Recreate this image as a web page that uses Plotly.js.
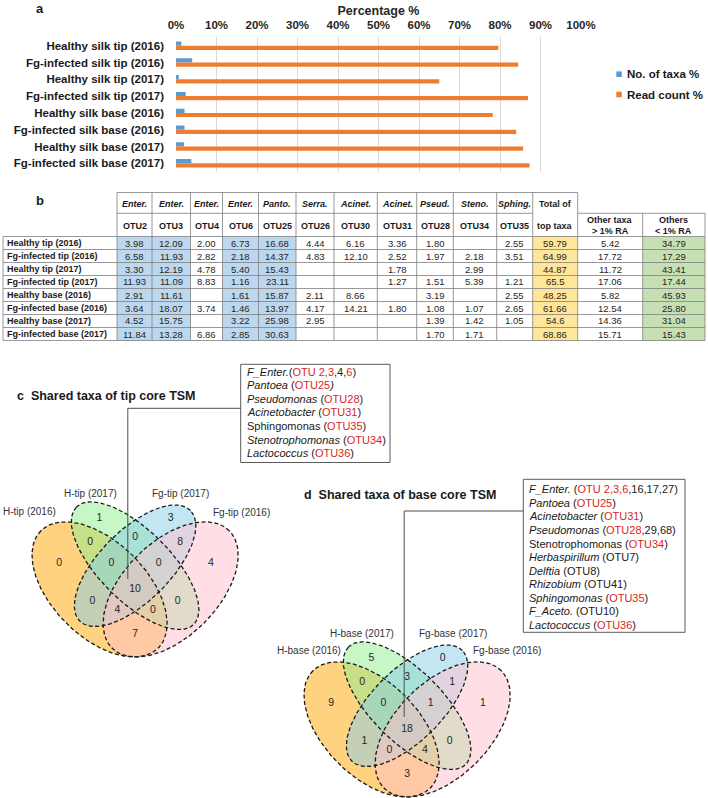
<!DOCTYPE html>
<html><head><meta charset="utf-8">
<script src="https://cdn.plot.ly/plotly-3.0.1.min.js"></script>
<style>html,body{margin:0;padding:0;background:#fff}#chart{width:708px;height:798px}</style>
</head><body><div id="chart"></div>
<script>
// ---------------- Panel a data ----------------
const sampleNames = ['Healthy silk tip (2016)','Fg-infected silk tip (2016)','Healthy silk tip (2017)','Fg-infected silk tip (2017)',
  'Healthy silk base (2016)','Fg-infected silk base (2016)','Healthy silk base (2017)','Fg-infected silk base (2017)'];
const taxaPct = [1.3, 4.0, 0.7, 2.4, 2.1, 2.1, 2.0, 3.8];
const readPct = [79.6, 84.5, 65.0, 86.9, 78.2, 84.0, 85.7, 87.3];
const seriesNames = ['No. of taxa %','Read count %'];
const pctTicks = [0,10,20,30,40,50,60,70,80,90,100];
const pctTickText = ['0%','10%','20%','30%','40%','50%','60%','70%','80%','90%','100%'];

// ---------------- Panel b data ----------------
const tableRowLabels = ['Healthy tip (2016)','Fg-infected tip (2016)','Healthy tip (2017)','Fg-infected tip (2017)',
  'Healthy base (2016)','Fg-infected base (2016)','Healthy base (2017)','Fg-infected base (2017)'];
const genusLabels = ['Enter.','Enter.','Enter.','Enter.','Panto.','Serra.','Acinet.','Acinet.','Pseud.','Steno.','Sphing.'];
const otuLabels = ['OTU2','OTU3','OTU4','OTU6','OTU25','OTU26','OTU30','OTU31','OTU28','OTU34','OTU35'];
// columns: 11 OTUs, total of top taxa, other taxa > 1% RA, others < 1% RA
const healthyTip2016  = ['3.98','12.09','2.00','6.73','16.68','4.44','6.16','3.36','1.80','','2.55','59.79','5.42','34.79'];
const fgTip2016       = ['6.58','11.93','2.82','2.18','14.37','4.83','12.10','2.52','1.97','2.18','3.51','64.99','17.72','17.29'];
const healthyTip2017  = ['3.30','12.19','4.78','5.40','15.43','','','1.78','','2.99','','44.87','11.72','43.41'];
const fgTip2017       = ['11.93','11.09','8.83','1.16','23.11','','','1.27','1.51','5.39','1.21','65.5','17.06','17.44'];
const healthyBase2016 = ['2.91','11.61','','1.61','15.87','2.11','8.66','','3.19','','2.55','48.25','5.82','45.93'];
const fgBase2016      = ['3.64','18.07','3.74','1.46','13.97','4.17','14.21','1.80','1.08','1.07','2.65','61.66','12.54','25.80'];
const healthyBase2017 = ['4.52','15.75','','3.22','25.98','2.95','','','1.39','1.42','1.05','54.6','14.36','31.04'];
const fgBase2017      = ['11.84','13.28','6.86','2.85','30.63','','','','1.70','1.71','','68.86','15.71','15.43'];
const tableRows = [healthyTip2016, fgTip2016, healthyTip2017, fgTip2017, healthyBase2016, fgBase2016, healthyBase2017, fgBase2017];

// ---------------- Panels c, d data ----------------
// region order: A, B, C, D, AB, BC, CD, ABC, BCD, AC, ABCD, BD, ACD, ABD, AD
const tipCounts  = [0, 1, 3, 4, 0, 0, 8, 0, 0, 0, 10, 0, 4, 0, 7];
const baseCounts = [9, 5, 0, 1, 0, 3, 1, 0, 1, 1, 18, 0, 0, 4, 3];
const tipSets  = ['H-tip (2016)','H-tip (2017)','Fg-tip (2017)','Fg-tip (2016)'];
const baseSets = ['H-base (2016)','H-base (2017)','Fg-base (2017)','Fg-base (2016)'];
const R = s => '<span style="color:#dc1e1e">' + s + '</span>';
const tipTaxa = [
  '<i>F_Enter.</i>(' + R('OTU 2,3') + ',4,' + R('6') + ')',
  '<i>Pantoea</i> (' + R('OTU25') + '<i>)</i>',
  '<i>Pseudomonas</i> (' + R('OTU28') + ')',
  '<i>Acinetobacter</i> (' + R('OTU31') + ')',
  'Sphingomonas (' + R('OTU35') + ')',
  '<i>Stenotrophomonas</i> (' + R('OTU34') + ')',
  '<i>Lactococcus</i> (' + R('OTU36') + ')'
];
const baseTaxa = [
  '<i>F_Enter.</i> (' + R('OTU 2,3,6') + ',16,17,27)',
  '<i>Pantoea</i> (' + R('OTU25') + ')',
  '<i>Acinetobacter</i> (' + R('OTU31') + ')',
  '<i>Pseudomonas</i> (' + R('OTU28') + ',29,68)',
  'Stenotrophomonas (' + R('OTU34') + ')',
  '<i>Herbaspirillum</i> (OTU7)',
  '<i>Delftia</i> (OTU8)',
  '<i>Rhizobium</i> (OTU41)',
  '<i>Sphingomonas</i> (' + R('OTU35') + ')',
  '<i>F_Aceto.</i> (OTU10)',
  '<i>Lactococcus</i> (' + R('OTU36') + ')'
];

// ---------------- layout helpers ----------------
const W = 708, H = 798;
const FONT = 'Liberation Sans, Arial, Helvetica, sans-serif';
const px = x => x / W;
const py = y => 1 - y / H;
const annotations = [];
const shapes = [];
function ann(x, y, text, size, extra) {
  annotations.push(Object.assign({
    xref: 'paper', yref: 'paper', x: px(x), y: py(y), text: text, showarrow: false,
    xanchor: 'center', yanchor: 'middle', font: {family: FONT, size: size, color: '#1a1a1a'}
  }, extra || {}));
}
function line(x0, y0, x1, y1, color, width) {
  shapes.push({type: 'line', xref: 'paper', yref: 'paper', x0: px(x0), y0: py(y0), x1: px(x1), y1: py(y1),
    line: {color: color, width: width}});
}
function rect(x0, y0, x1, y1, fill, lineColor, lw) {
  shapes.push({type: 'rect', xref: 'paper', yref: 'paper', x0: px(x0), y0: py(y0), x1: px(x1), y1: py(y1),
    fillcolor: fill || 'rgba(0,0,0,0)', line: {color: lineColor || 'rgba(0,0,0,0)', width: lw || 0}, layer: 'below'});
}

const traces = [];

// ---------------- Panel a ----------------
const barColors = ['#5b9bd5', '#ed7d31'];
[taxaPct, readPct].forEach((vals, k) => {
  traces.push({type: 'bar', orientation: 'h', x: vals, y: sampleNames, name: seriesNames[k],
    marker: {color: barColors[k]}, xaxis: 'x', yaxis: 'y', showlegend: false, hoverinfo: 'skip'});
});
ann(40, 8.5, '<b>a</b>', 13);
// custom legend
seriesNames.forEach((n, k) => {
  const yc = 74.2 + k * 20.3;
  shapes.push({type: 'rect', xref: 'paper', yref: 'paper', x0: px(616.3), x1: px(621.8), y0: py(yc + 2.8), y1: py(yc - 2.8),
    fillcolor: barColors[k], line: {width: 0}});
  ann(624.5, yc, '<b>' + n + '</b>', 11.5, {xanchor: 'left'});
});

// ---------------- Panel b (table) ----------------
const colEdges = [3, 117, 152, 190.5, 222.5, 258.5, 296, 334, 377.3, 416.7, 453.3, 496.7, 532.7, 577.7, 642.7, 705];
const headTop = 192.5, headMid = 213.3, bodyTop = 236.5, rowH = 13.0;
const colFill = ['#bdd7ee','#bdd7ee',null,'#bdd7ee','#bdd7ee',null,null,null,null,null,null,'#ffe699',null,'#c6e0b4'];
const gridC = '#7f7f7f', gridW = 0.8;
const nRows = tableRows.length;
const bodyBot = bodyTop + nRows * rowH;
ann(40, 201, '<b>b</b>', 13);
// fills
colFill.forEach((c, j) => {
  if (c) rect(colEdges[j + 1], bodyTop, colEdges[j + 2], bodyBot, c);
});
// horizontal lines
line(colEdges[1], headTop, colEdges[13], headTop, gridC, gridW);
line(colEdges[1], headMid, colEdges[12], headMid, gridC, gridW);
line(colEdges[13], headMid, colEdges[15], headMid, gridC, gridW);
for (let i = 0; i <= nRows; i++) line(colEdges[0], bodyTop + i * rowH, colEdges[15], bodyTop + i * rowH, gridC, gridW);
// vertical lines
line(colEdges[0], bodyTop, colEdges[0], bodyBot, gridC, gridW);
for (let j = 1; j <= 13; j++) line(colEdges[j], headTop, colEdges[j], bodyBot, gridC, gridW);
for (let j = 14; j <= 15; j++) line(colEdges[j], headMid, colEdges[j], bodyBot, gridC, gridW);
// header text
const mid = j => (colEdges[j] + colEdges[j + 1]) / 2;
genusLabels.forEach((g, j) => ann(mid(j + 1), 204.3, '<b><i>' + g + '</i></b>', 9));
otuLabels.forEach((o, j) => ann(mid(j + 1), 225.7, '<b>' + o + '</b>', 9));
ann(mid(12), 204.3, '<b>Total of</b>', 9);
ann(mid(12), 225.7, '<b>top taxa</b>', 9);
ann(mid(13), 220, '<b>Other taxa</b>', 9);
ann(mid(13), 231, '<b>&gt; 1% RA</b>', 9);
ann(mid(14), 220, '<b>Others</b>', 9);
ann(mid(14), 231, '<b>&lt; 1% RA</b>', 9);
// body text
tableRows.forEach((row, i) => {
  const yc = bodyTop + (i + 0.5) * rowH;
  ann(4.5, yc, '<b>' + tableRowLabels[i] + '</b>', 9, {xanchor: 'left'});
  row.forEach((v, j) => { if (v !== '') ann(mid(j + 1), yc, v, 9.5, {font: {family: FONT, size: 9.5, color: '#262626'}}); });
});

// ---------------- Panels c, d (Venn) ----------------
const ellipses = [
  {cx: 0.35, cy: 0.47, a: 0.35, b: 0.20, rot: 135, fill: 'rgba(255,165,0,0.5)'},
  {cx: 0.50, cy: 0.57, a: 0.35, b: 0.15, rot: 135, fill: 'rgba(144,238,144,0.5)'},
  {cx: 0.50, cy: 0.57, a: 0.33, b: 0.15, rot: 45,  fill: 'rgba(135,206,235,0.5)'},
  {cx: 0.65, cy: 0.47, a: 0.35, b: 0.20, rot: 45,  fill: 'rgba(255,192,203,0.5)'}
];
const regionU = [0.18, 0.35, 0.65, 0.82, 0.31, 0.50, 0.69, 0.40, 0.60, 0.32, 0.50, 0.68, 0.425, 0.575, 0.50];
const regionV = [0.58, 0.77, 0.77, 0.58, 0.67, 0.69, 0.67, 0.58, 0.58, 0.42, 0.47, 0.42, 0.38, 0.38, 0.28];
function ellipsePts(e) {
  const xs = [], ys = [], r = e.rot * Math.PI / 180;
  for (let i = 0; i <= 200; i++) {
    const t = 2 * Math.PI * i / 200;
    xs.push(e.cx + e.a * Math.cos(t) * Math.cos(r) - e.b * Math.sin(t) * Math.sin(r));
    ys.push(e.cy + e.a * Math.cos(t) * Math.sin(r) + e.b * Math.sin(t) * Math.cos(r));
  }
  return [xs, ys];
}
function venn(xa, ya, counts) {
  ellipses.forEach(e => {
    const [xs, ys] = ellipsePts(e);
    traces.push({type: 'scatter', mode: 'none', x: xs, y: ys, fill: 'toself', fillcolor: e.fill,
      xaxis: xa, yaxis: ya, showlegend: false, hoverinfo: 'skip'});
  });
  ellipses.forEach(e => {
    const [xs, ys] = ellipsePts(e);
    traces.push({type: 'scatter', mode: 'lines', x: xs, y: ys,
      line: {color: '#1a1a1a', width: 1.3, dash: '4px,2.5px'},
      xaxis: xa, yaxis: ya, showlegend: false, hoverinfo: 'skip'});
  });
  traces.push({type: 'scatter', mode: 'text', x: regionU, y: regionV, text: counts.map(String),
    textfont: {family: FONT, size: 10.5, color: '#262626'}, xaxis: xa, yaxis: ya, showlegend: false, hoverinfo: 'skip'});
}
venn('x2', 'y2', tipCounts);
venn('x3', 'y3', baseCounts);

// set labels
const tipLabelPos = [[29.2, 511.7], [90, 493.3], [180, 493.3], [241, 512]];
const baseLabelPos = [[309, 650.7], [361.7, 633.3], [452.7, 633.3], [506.5, 650.7]];
tipSets.forEach((s, k) => ann(tipLabelPos[k][0], tipLabelPos[k][1], s, 10, {font: {family: FONT, size: 10, color: '#333'}}));
baseSets.forEach((s, k) => ann(baseLabelPos[k][0], baseLabelPos[k][1], s, 10, {font: {family: FONT, size: 10, color: '#333'}}));

// titles
ann(15, 395.7, '<b>c  Shared taxa of tip core TSM</b>', 12.5, {xanchor: 'left'});
ann(302, 495, '<b>d  Shared taxa of base core TSM</b>', 12.5, {xanchor: 'left'});

// text boxes
shapes.push({type: 'rect', xref: 'paper', yref: 'paper', x0: px(240.7), x1: px(390), y0: py(364.3), y1: py(462.5),
  line: {color: '#5a5a5a', width: 1}, fillcolor: 'rgba(0,0,0,0)'});
shapes.push({type: 'rect', xref: 'paper', yref: 'paper', x0: px(523.3), x1: px(685), y0: py(479.3), y1: py(632.3),
  line: {color: '#5a5a5a', width: 1}, fillcolor: 'rgba(0,0,0,0)'});
tipTaxa.forEach((t, k) => ann(245, 371.7 + 13.6 * k, t, 11, {xanchor: 'left'}));
baseTaxa.forEach((t, k) => ann(526.7, 489.3 + 13.57 * k, t, 11, {xanchor: 'left'}));
// connectors
shapes.push({type: 'path', xref: 'paper', yref: 'paper',
  path: 'M' + px(240.7) + ',' + py(408.3) + ' L' + px(127.8) + ',' + py(408.3) + ' L' + px(127.8) + ',' + py(579),
  line: {color: '#4d4d4d', width: 1}});
shapes.push({type: 'path', xref: 'paper', yref: 'paper',
  path: 'M' + px(523.3) + ',' + py(511) + ' L' + px(404.2) + ',' + py(511) + ' L' + px(404.2) + ',' + py(717),
  line: {color: '#4d4d4d', width: 1}});

// ---------------- layout ----------------
const hidden = {visible: false, fixedrange: true, showgrid: false, zeroline: false};
const layout = {
  width: W, height: H, margin: {l: 0, r: 0, t: 0, b: 0}, paper_bgcolor: '#fff', plot_bgcolor: 'rgba(0,0,0,0)',
  font: {family: FONT, color: '#1a1a1a'},
  barmode: 'group', bargap: 0.5, bargroupgap: 0,
  showlegend: false,
  xaxis: {domain: [px(176), px(581)], anchor: 'y', side: 'top', range: [0, 100], tickmode: 'array', tickvals: pctTicks,
    ticktext: pctTickText, showgrid: true, gridcolor: '#d9d9d9', gridwidth: 1, zeroline: false, showline: false, ticks: '',
    ticklabelstandoff: 5,
    tickfont: {family: FONT, size: 11.5, color: '#262626', weight: 'bold'}, fixedrange: true, automargin: false,
    title: {text: '<b>Percentage %</b>', font: {family: FONT, size: 12.5, color: '#262626'}, standoff: 0}},
  yaxis: {domain: [py(171.7), py(37.3)], anchor: 'x', type: 'category', autorange: 'reversed', showgrid: false,
    zeroline: false, showline: false, ticks: '', ticklabelstandoff: 11, automargin: false, fixedrange: true,
    tickfont: {family: FONT, size: 11.5, color: '#1a1a1a', weight: 'bold'}},
  xaxis2: Object.assign({domain: [px(16.6), px(253.6)], range: [0, 1], anchor: 'y2'}, hidden),
  yaxis2: Object.assign({domain: [py(700.8), py(463.8)], range: [0, 1], anchor: 'x2'}, hidden),
  xaxis3: Object.assign({domain: [px(288.6), px(525.6)], range: [0, 1], anchor: 'y3'}, hidden),
  yaxis3: Object.assign({domain: [0, py(603.8)], range: [(840.8 - 798) / 237, 1], anchor: 'x3'}, hidden),
  shapes: shapes,
  annotations: annotations
};
Plotly.newPlot('chart', traces, layout, {displayModeBar: false, staticPlot: true});
</script></body></html>
